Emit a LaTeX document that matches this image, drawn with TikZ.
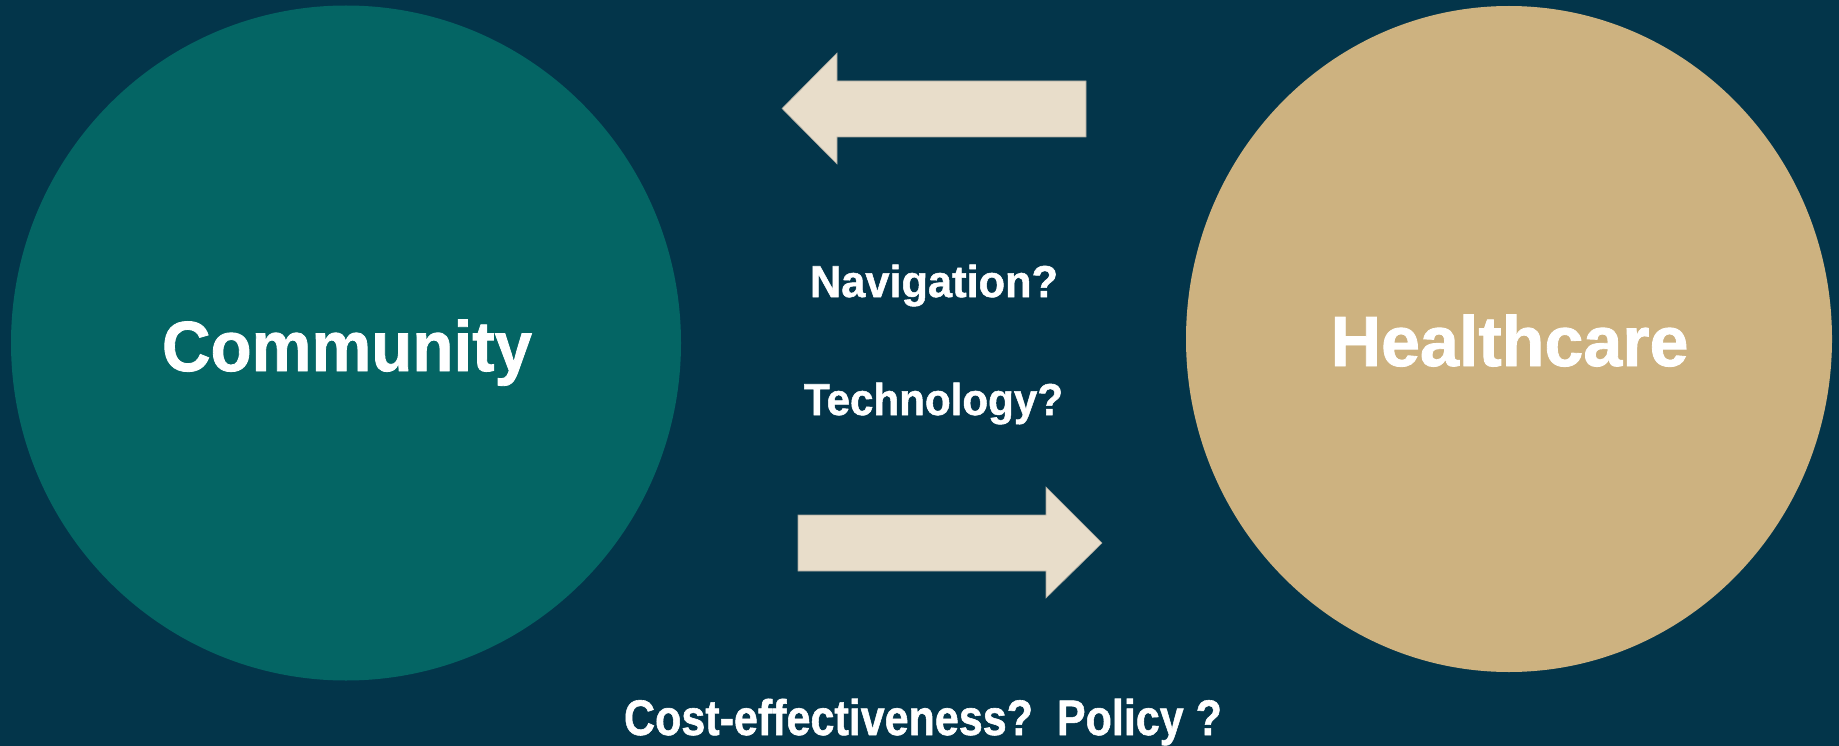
\documentclass[tikz,border=0pt]{standalone}
\usepackage{fontspec}
\setmainfont{Liberation Sans}[BoldFeatures={FakeBold=1.2}]
\usepackage{graphicx}
\definecolor{bg}{HTML}{03354A}
\definecolor{comm}{HTML}{046564}
\definecolor{hc}{HTML}{CDB280}
\definecolor{arr}{HTML}{E8DDCA}
\definecolor{arredge}{HTML}{A8A79E}
\tikzset{
  lbl/.style={text=white, inner sep=0pt, anchor=base, font=\bfseries},
  blockarrow/.style={fill=arr, draw=arredge, line width=0.6pt, line join=miter}
}
\newcommand{\fitw}[2]{\resizebox{#1}{\height}{#2}}
\begin{document}
\begin{tikzpicture}[x=1pt,y=-1pt]
\fill[bg] (0,0) rectangle (1839,746);
\useasboundingbox (0,0) rectangle (1839,746);
% circles
\fill[comm] (346,343) ellipse [x radius=335, y radius=337.5];
\fill[hc] (1509,339) ellipse [x radius=323, y radius=333];
% arrows
\draw[blockarrow] (1086,81) -- (837,81) -- (837,53) -- (782,108.5) -- (837,164) -- (837,137) -- (1086,137) -- cycle;
\draw[blockarrow] (798,515) -- (1046,515) -- (1046,487) -- (1102,543) -- (1046,598) -- (1046,571) -- (798,571) -- cycle;
% labels
\node[lbl, font=\bfseries\fontsize{71}{80}\selectfont] (community) at (347,371) {\fitw{370pt}{Community}};
\node[lbl, font=\bfseries\fontsize{71}{80}\selectfont] (healthcare) at (1509.5,366) {\fitw{358pt}{Healthcare}};
\node[lbl, font=\bfseries\fontsize{44.7}{50}\selectfont] (navigation) at (934,297) {\fitw{248pt}{Navigation?}};
\node[lbl, font=\bfseries\fontsize{44.7}{50}\selectfont] (technology) at (933.5,415) {\fitw{259pt}{Technology?}};
\node[lbl, font=\bfseries\fontsize{50}{56}\selectfont] (costpolicy) at (923,735) {\fitw{598pt}{Cost-effectiveness?\ \ Policy ?}};
\end{tikzpicture}
\end{document}
